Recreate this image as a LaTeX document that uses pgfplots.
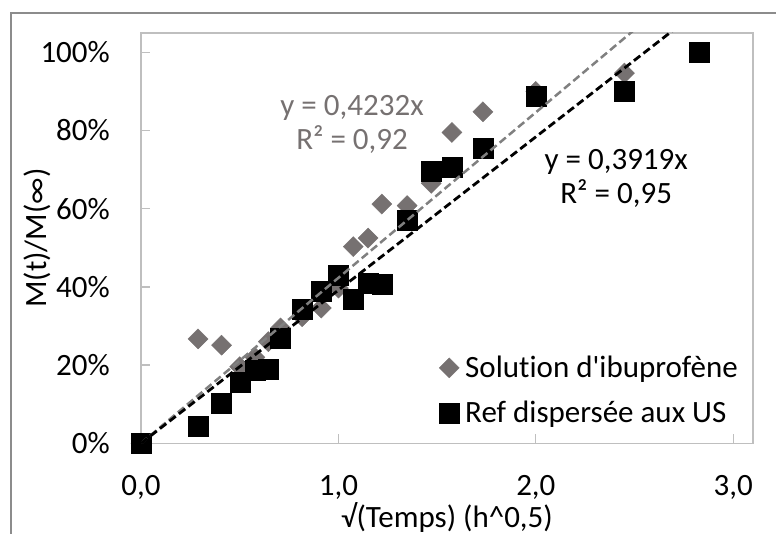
\documentclass[border=0pt]{standalone}
\usepackage{pgfplots}
\pgfplotsset{compat=1.18}
\usepackage{fontspec}
\setmainfont{Carlito}[Ligatures={NoCommon}]
\definecolor{axgray}{HTML}{BFBFBF}
\definecolor{framegray}{HTML}{8C8C8C}
\definecolor{dgray}{HTML}{767171}
\definecolor{lgray}{HTML}{808080}
\definecolor{tgray}{HTML}{767171}
\newcommand{\fs}{\fontsize{31bp}{37bp}\selectfont}
\pgfplotstableread{
x y
0 0
0.289 0.267
0.408 0.251
0.5 0.196
0.577 0.22
0.645 0.26
0.707 0.295
0.816 0.324
0.913 0.346
1.0 0.397
1.075 0.503
1.15 0.525
1.22 0.612
1.348 0.608
1.47 0.665
1.575 0.795
1.732 0.848
2.0 0.90
2.449 0.947
2.828 1.0
}\soltable
\pgfplotstableread{
x y
0 0
0.289 0.043
0.408 0.103
0.5 0.157
0.577 0.188
0.645 0.19
0.707 0.27
0.816 0.343
0.913 0.388
1.0 0.43
1.075 0.369
1.15 0.41
1.22 0.407
1.348 0.571
1.47 0.695
1.575 0.705
1.732 0.755
2.0 0.887
2.449 0.90
2.828 1.0
}\reftable
\begin{document}
\begin{tikzpicture}[font=\fs]
\useasboundingbox (0,0) rectangle (776bp,534bp);
\draw[framegray, line width=1.3bp] (11bp,0) -- (11bp,521bp) -- (776bp,521bp);
\begin{axis}[
  at={(141bp,90.7bp)}, anchor=south west,
  scale only axis, width=612bp, height=410.5bp,
  xmin=0, xmax=3.1, ymin=0, ymax=1.05,
  clip mode=individual,
  axis line style={axgray, line width=1.5bp},
  tick style={axgray, line width=1.3bp},
  tick align=inside, major tick length=9bp,
  xtick pos=bottom, ytick pos=left,
  xtick={0,1,2,3}, xticklabels={{0,0},{1,0},{2,0},{3,0}},
  ytick={0,0.2,0.4,0.6,0.8,1.0}, yticklabels={0\%,20\%,40\%,60\%,80\%,100\%},
  xticklabel style={font=\fs, inner sep=0pt, anchor=north, yshift=-32bp},
  yticklabel style={font=\fs, inner sep=0pt, anchor=east, xshift=-31bp},
  xlabel={√(Temps) (h\textasciicircum 0,5)},
  ylabel={M(t)/M(∞)},
  xlabel style={font=\fs, at={(axis description cs:0.5,-0.18)}, anchor=center},
  ylabel style={font=\fs, at={(axis description cs:-0.170,0.5)}, anchor=center, rotate=0},
  legend style={draw=none, fill=none, font=\fs, at={(axis description cs:0.482,0.222)}, anchor=north west, row sep=18bp, column sep=4bp},
  legend cell align=left,
]
\addplot[only marks, mark=square*, mark size=7.1bp, mark options={rotate=45, fill=dgray, draw=dgray}] table {\soltable};
\addlegendentry{Solution d\textquotesingle ibuprofène}
\addplot[only marks, mark=square*, mark size=10bp, mark options={fill=black, draw=black}] table {\reftable};
\addlegendentry{Ref dispersée aux US}
\addplot[lgray, line width=2.5bp, dash pattern=on 8bp off 4bp, forget plot] coordinates {(0,0) (3.1,1.312)};
\addplot[black, line width=2.8bp, dash pattern=on 8bp off 4bp, forget plot] coordinates {(0,0) (3.1,1.215)};
\node[tgray, anchor=center] at (axis cs:1.069,0.857) {y = 0,4232x};
\node[tgray, anchor=center] at (axis cs:1.069,0.776) {R² = 0,92};
\node[black, anchor=center] at (axis cs:2.407,0.719) {y = 0,3919x};
\node[black, anchor=center] at (axis cs:2.407,0.640) {R² = 0,95};
\end{axis}
\end{tikzpicture}
\end{document}
